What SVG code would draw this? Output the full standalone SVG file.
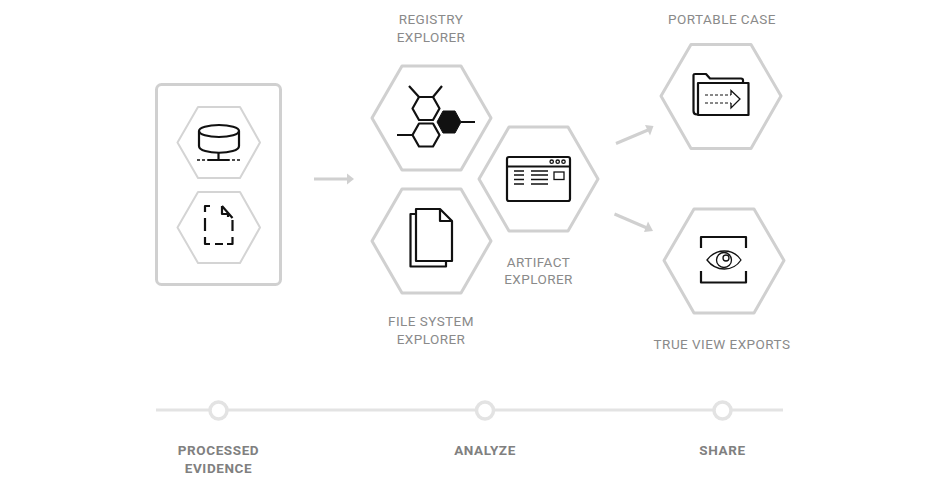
<svg xmlns="http://www.w3.org/2000/svg" width="947" height="488" viewBox="0 0 947 488">
<style>
.hex{fill:none;stroke:#d0d0d0;stroke-width:3;stroke-linejoin:round}
.hexs{fill:none;stroke:#d4d4d4;stroke-width:2;stroke-linejoin:round}
.ic{fill:none;stroke:#111;stroke-width:2.200;stroke-linejoin:round}
.th{fill:none;stroke:#111;stroke-width:1.300}
.conn{fill:none;stroke:#d0d0d0;stroke-width:3}
.head{fill:#d0d0d0}
.t{font-family:"Roboto","Liberation Sans",sans-serif;font-size:13.500px;letter-spacing:.45px;fill:#8a8a8a;text-anchor:middle}
.b{font-family:"Roboto","Liberation Sans",sans-serif;font-size:13.500px;font-weight:700;letter-spacing:.6px;fill:#808080;text-anchor:middle}
.step{fill:#fff;stroke:#e3e3e3;stroke-width:3.500}
</style>
<g id="connectors">
<path class="conn" d="M314 179H348"/><path d="M354 179L347 173.500V184.500Z" class="head"/>
<path class="conn" d="M616 143.500L648 130"/><path class="head" d="M653.500 126L645 125L650 135.500Z"/>
<path class="conn" d="M614.500 214L647 228"/><path class="head" d="M653 231L648 221.500L644 232Z"/>
<path d="M156 410H783" fill="none" stroke="#e3e3e3" stroke-width="3"/>
</g>
<g id="evidence-box"><rect x="156.500" y="84.500" width="124" height="200" rx="5" fill="none" stroke="#d0d0d0" stroke-width="3"/></g>
<g id="node-database">
<path class="hexs" d="M177.500 142.500L198 107H240L260 142.500L240 178H198Z"/>
<path class="ic" stroke-width="2" d="M199 131V146C199 155 239 155 239 146V131"/>
<ellipse class="ic" cx="219" cy="131" rx="20" ry="6"/>
<path class="ic" d="M218.500 153V160"/>
<path d="M197 160H240" fill="none" stroke="#111" stroke-width="1.500" stroke-dasharray="3 2"/>
<path d="M208 160H229" fill="none" stroke="#111" stroke-width="2"/>
</g>
<g id="node-file">
<path class="hexs" d="M177.500 227.500L198 192H240L260 227.500L240 263H198Z"/>
<path class="ic" d="M210 206H205V212M205 218V231M205 237V244H210M215 244H223M227 244H232.500V237M232.500 231V220M208 206H210M222 206V214H228V217M222 206L232.500 218"/>
</g>
<g id="node-registry">
<path class="hex" d="M372 118L402 66H461L491 118L461 170H402Z"/>
<path class="ic" d="M419 97H433L439.500 108.500L433 120H419L412.500 108.500Z"/>
<path class="ic" d="M419 123.500H433L439.500 135L433 146.500H419L412.500 135Z"/>
<path d="M443 111H455L461 122L455 133H443L437 122Z" fill="#111" stroke="#111"/>
<path class="ic" d="M419 97L409 86M433 97L442 86M412.500 135H397M461 122H475"/>
</g>
<g id="node-fs">
<path class="hex" d="M372 241L402 189H461L491 241L461 293H402Z"/>
<path class="ic" d="M416 214H410.500V266.500H446V261"/>
<path class="ic" d="M416 209H440L452 221V261H416Z"/>
<path class="ic" d="M440 209V221H452"/>
</g>
<g id="node-artifact">
<path class="hex" d="M479 179L509 127H568L598 179L568 231H509Z"/>
<rect class="ic" x="507" y="157" width="63" height="44" rx="2"/>
<path class="ic" d="M507 166.500H570"/>
<circle class="th" cx="551.700" cy="161.700" r="1.700"/><circle class="th" cx="557.700" cy="161.700" r="1.700"/><circle class="th" cx="563.500" cy="161.700" r="1.700"/>
<path class="th" d="M514 171H524M514 175H524M514 179.500H524M514 184H524M531 171H548M531 175H548M531 179.500H548M531 184H548"/>
<rect class="th" x="554" y="172" width="10" height="7.500"/>
</g>
<g id="node-case">
<path class="hex" d="M661 96L691 44.500H751L781 96L751 148.500H691Z"/>
<path class="ic" d="M697 114.500Q693.500 114.500 693.500 111V75Q693.500 74 695 74H706L710 78.500H741Q743 78.500 743 80V83"/>
<path class="ic" d="M698 83H748.500V115H698Z"/>
<path d="M705 95H731M705 103H731" fill="none" stroke="#111" stroke-width="1" stroke-dasharray="3 2"/>
<path class="th" d="M731 95V90.500L740 99L731 108V103"/>
</g>
<g id="node-trueview">
<path class="hex" d="M664 260.500L694 209H754L784 260.500L754 313H694Z"/>
<path class="ic" d="M701 248V237H746V248M701 271V282.500H746V271"/>
<path class="th" stroke-width="1.500" d="M707 260C716 248 733 248 741 260C733 272 716 272 707 260Z"/>
<circle class="th" cx="724" cy="260" r="7.500"/><circle class="th" cx="726" cy="258" r="3"/>
</g>
<g id="labels">
<text class="t" x="431" y="24">REGISTRY</text><text class="t" x="431" y="42">EXPLORER</text>
<text class="t" x="722" y="24">PORTABLE CASE</text>
<text class="t" x="431" y="326">FILE SYSTEM</text><text class="t" x="431" y="344">EXPLORER</text>
<text class="t" x="538.500" y="267">ARTIFACT</text><text class="t" x="538.500" y="284">EXPLORER</text>
<text class="t" x="722" y="349">TRUE VIEW EXPORTS</text>
</g>
<g id="step-processed"><circle class="step" cx="218.500" cy="410.500" r="8.500"/><text class="b" x="218.500" y="455">PROCESSED</text><text class="b" x="218.500" y="473">EVIDENCE</text></g>
<g id="step-analyze"><circle class="step" cx="485" cy="410.500" r="8.500"/><text class="b" x="485" y="455">ANALYZE</text></g>
<g id="step-share"><circle class="step" cx="722.500" cy="410.500" r="8.500"/><text class="b" x="722.500" y="455">SHARE</text></g>
</svg>
